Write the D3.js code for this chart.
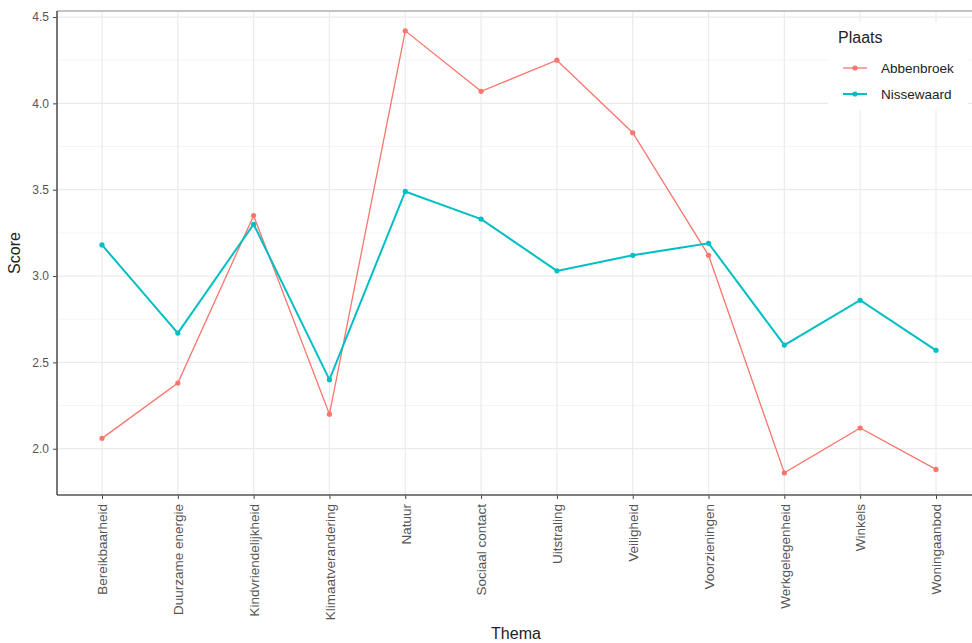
<!DOCTYPE html>
<html>
<head>
<meta charset="utf-8">
<script src="https://cdn.jsdelivr.net/npm/d3@7"></script>
<style>
  html, body { margin: 0; padding: 0; background: #fff; }
  svg { display: block; font-family: "Liberation Sans", Arial, sans-serif; }
</style>
</head>
<body>
<svg id="chart" width="972" height="643"></svg>
<script>
const categories = ["Bereikbaarheid", "Duurzame energie", "Kindvriendelijkheid", "Klimaatverandering",
  "Natuur", "Sociaal contact", "Uitstraling", "Veiligheid", "Voorzieningen",
  "Werkgelegenheid", "Winkels", "Woningaanbod"];
const abbenbroek = [2.06, 2.38, 3.35, 2.20, 4.42, 4.07, 4.25, 3.83, 3.12, 1.86, 2.12, 1.88];
const nissewaard = [3.18, 2.67, 3.30, 2.40, 3.49, 3.33, 3.03, 3.12, 3.19, 2.60, 2.86, 2.57];
const seriesNames = ["Abbenbroek", "Nissewaard"];
const seriesColors = ["#F8766D", "#00BFC4"];
const yTicks = [2.0, 2.5, 3.0, 3.5, 4.0, 4.5];
const yMinor = [1.75, 2.25, 2.75, 3.25, 3.75, 4.25];

const svg = d3.select("#chart");
const W = 972, H = 643;
const panel = { left: 57, top: 11, right: 982, bottom: 495 };

const x = d3.scalePoint().domain(categories).range([102, 936]);
const y = d3.scaleLinear().domain([1.732, 4.535]).range([panel.bottom, panel.top]);

const g = svg.append("g");

// minor grid
g.selectAll(".hminor").data(yMinor).enter().append("line")
  .attr("x1", panel.left).attr("x2", panel.right)
  .attr("y1", d => y(d)).attr("y2", d => y(d))
  .attr("stroke", "#f4f4f4").attr("stroke-width", 1);
// major grid
g.selectAll(".hmajor").data(yTicks).enter().append("line")
  .attr("x1", panel.left).attr("x2", panel.right)
  .attr("y1", d => y(d)).attr("y2", d => y(d))
  .attr("stroke", "#ebebeb").attr("stroke-width", 1.2);
g.selectAll(".vmajor").data(categories).enter().append("line")
  .attr("x1", d => x(d)).attr("x2", d => x(d))
  .attr("y1", panel.top).attr("y2", panel.bottom)
  .attr("stroke", "#ebebeb").attr("stroke-width", 1.2);

// top border
g.append("line").attr("x1", panel.left).attr("x2", W)
  .attr("y1", panel.top).attr("y2", panel.top)
  .attr("stroke", "#c4c4c4").attr("stroke-width", 2);

// series
const data = [abbenbroek, nissewaard];
const line = d3.line().x((d, i) => x(categories[i])).y(d => y(d));
data.forEach((vals, si) => {
  g.append("path").datum(vals)
    .attr("d", line)
    .attr("fill", "none")
    .attr("stroke", seriesColors[si])
    .attr("stroke-width", si === 0 ? 1.3 : 2);
  g.selectAll(".pt" + si).data(vals).enter().append("circle")
    .attr("cx", (d, i) => x(categories[i]))
    .attr("cy", d => y(d))
    .attr("r", 2.6)
    .attr("fill", seriesColors[si]);
});

// axes
const yAxis = d3.axisLeft(y).tickValues(yTicks).tickFormat(d3.format(".1f")).tickSize(4).tickPadding(4);
const ya = svg.append("g").attr("transform", `translate(${panel.left},0)`).call(yAxis);
ya.select(".domain").remove();
ya.selectAll(".tick line").attr("stroke", "#444");
ya.selectAll(".tick text").attr("fill", "#555").style("font-size", "12px");

const xAxis = d3.axisBottom(x).tickSize(4).tickPadding(4);
const xa = svg.append("g").attr("transform", `translate(0,${panel.bottom})`).call(xAxis);
xa.select(".domain").remove();
xa.selectAll(".tick line").attr("stroke", "#444");
xa.selectAll(".tick text")
  .attr("fill", "#555").style("font-size", "13.5px")
  .attr("transform", "rotate(-90)")
  .attr("text-anchor", "end")
  .attr("x", -9).attr("y", 0).attr("dy", "0.35em");

// axis lines (left & bottom)
svg.append("line").attr("x1", panel.left).attr("x2", panel.left)
  .attr("y1", panel.top).attr("y2", panel.bottom)
  .attr("stroke", "#555").attr("stroke-width", 1.6);
svg.append("line").attr("x1", panel.left).attr("x2", W)
  .attr("y1", panel.bottom).attr("y2", panel.bottom)
  .attr("stroke", "#555").attr("stroke-width", 1.6);

// axis titles
svg.append("text").attr("x", 516).attr("y", 639)
  .attr("text-anchor", "middle").attr("fill", "#222")
  .style("font-size", "16px").text("Thema");
svg.append("text").attr("transform", `translate(20,${(panel.top + panel.bottom) / 2}) rotate(-90)`)
  .attr("text-anchor", "middle").attr("fill", "#222")
  .style("font-size", "16px").text("Score");

// legend
const lg = svg.append("g");
lg.append("rect").attr("x", 828).attr("y", 22).attr("width", 140).attr("height", 88).attr("fill", "#fff");
lg.append("text").attr("x", 838).attr("y", 43).attr("fill", "#222")
  .style("font-size", "16px").text("Plaats");
seriesNames.forEach((name, i) => {
  const cy = 68 + i * 26;
  lg.append("line").attr("x1", 843).attr("x2", 867).attr("y1", cy).attr("y2", cy)
    .attr("stroke", seriesColors[i]).attr("stroke-width", i === 0 ? 1.3 : 2);
  lg.append("circle").attr("cx", 855).attr("cy", cy).attr("r", 2.6).attr("fill", seriesColors[i]);
  lg.append("text").attr("x", 881).attr("y", cy).attr("dy", "0.35em")
    .attr("fill", "#222").style("font-size", "13.5px").text(name);
});
</script>
</body>
</html>
